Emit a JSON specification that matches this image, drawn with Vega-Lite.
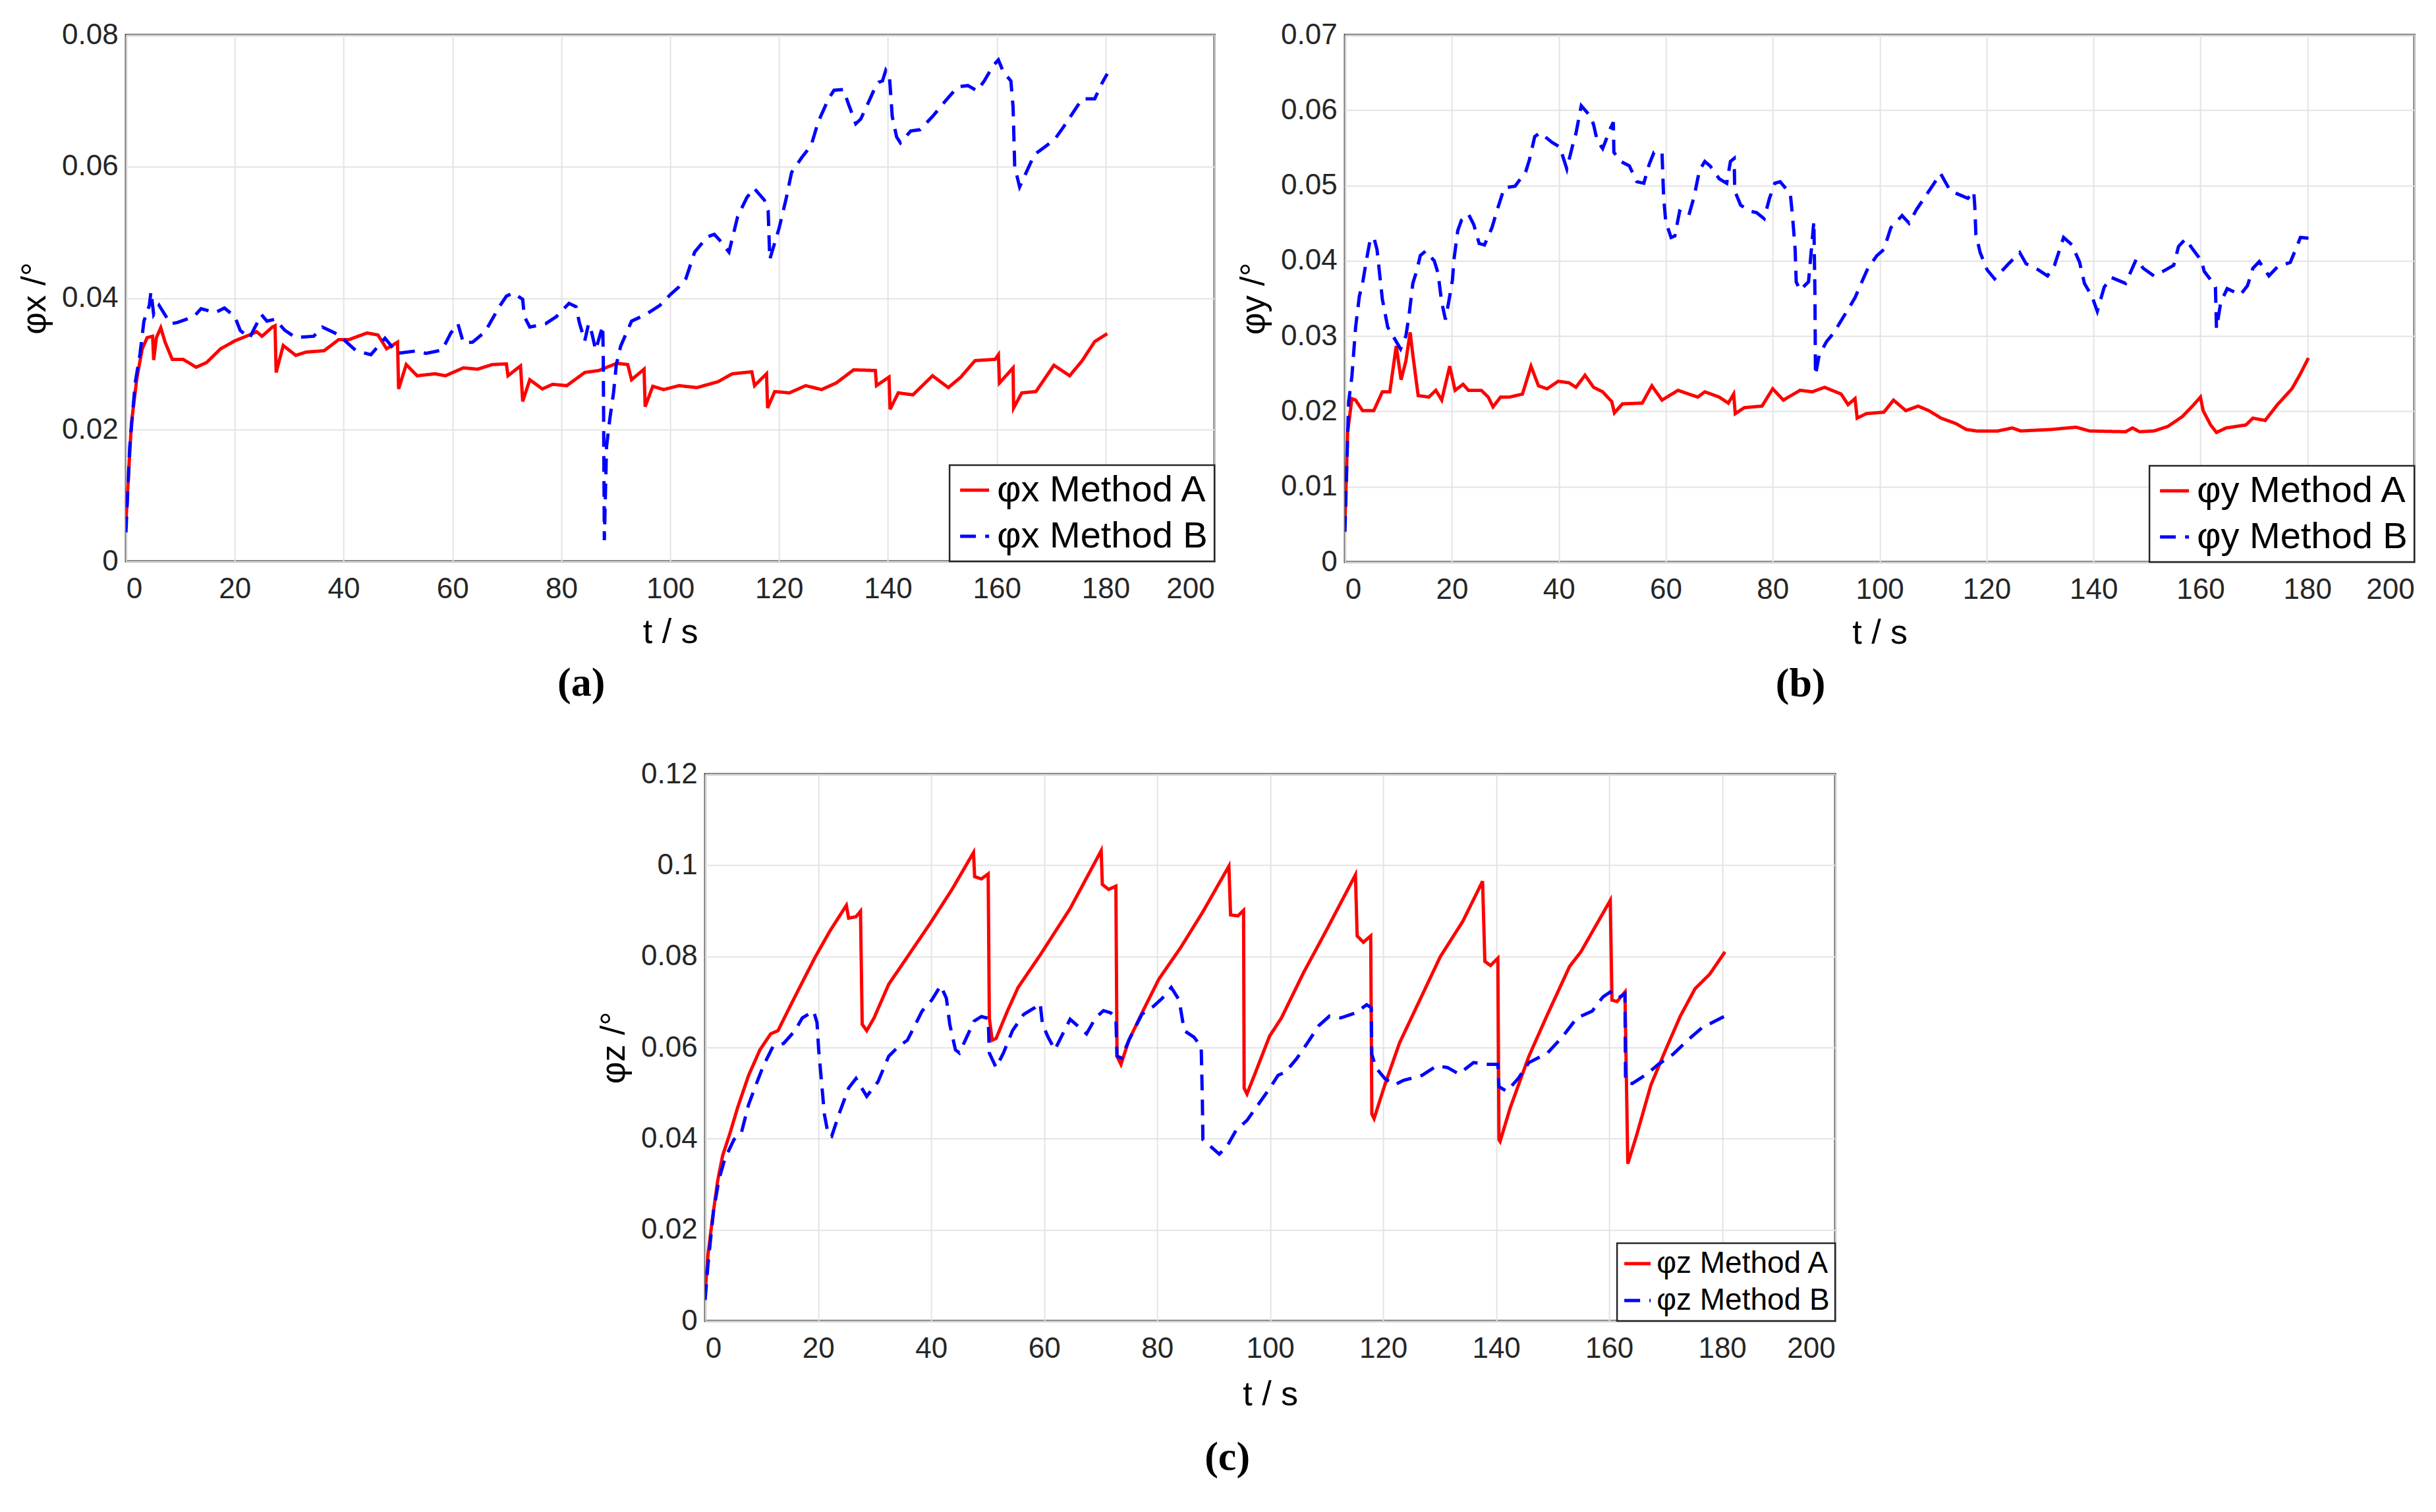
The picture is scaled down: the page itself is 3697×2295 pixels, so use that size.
{
  "$schema": "https://vega.github.io/schema/vega-lite/v6.json",
  "background": "white",
  "padding": {"left": 24, "top": 29, "right": 0, "bottom": 0},
  "config": {
    "font": "Liberation Sans",
    "view": {"stroke": "#262626", "strokeWidth": 3},
    "axis": {
      "grid": true, "gridColor": "#E3E3E3", "gridWidth": 2,
      "domain": false, "ticks": false,
      "labelFont": "Liberation Sans", "labelFontSize": 44, "labelColor": "#262626",
      "titleFont": "Liberation Sans", "titleFontSize": 52, "titleFontWeight": "normal", "titleColor": "#000000"
    },
    "axisX": {"labelPadding": 20, "titlePadding": 18},
    "axisY": {"labelPadding": 12, "titlePadding": 14},
    "legend": {
      "orient": "bottom-right", "offset": 0, "title": null,
      "fillColor": "white", "strokeColor": "#262626", "strokeWidth": 2.5,
      "labelFont": "Liberation Sans", "labelFontSize": 56, "labelColor": "#000000", "labelLimit": 800,
      "symbolType": "stroke", "symbolSize": 1936, "symbolStrokeWidth": 5,
      "padding": 10, "rowPadding": 14, "labelOffset": 6
    },
    "title": {"orient": "bottom", "font": "Liberation Serif", "fontSize": 62, "fontWeight": "bold", "color": "#000000", "offset": 22}
  },
  "datasets": {
    "a": [
      {"t":0,"v":0.0060,"m":"φx Method A"},{"t":1.0,"v":0.0209,"m":"φx Method A"},{"t":2.0,"v":0.0278,"m":"φx Method A"},{"t":3.0,"v":0.0323,"m":"φx Method A"},{"t":3.9,"v":0.0340,"m":"φx Method A"},{"t":4.9,"v":0.0342,"m":"φx Method A"},{"t":5.1,"v":0.0306,"m":"φx Method A"},{"t":5.6,"v":0.0340,"m":"φx Method A"},{"t":6.4,"v":0.0355,"m":"φx Method A"},{"t":7.2,"v":0.0333,"m":"φx Method A"},{"t":8.5,"v":0.0307,"m":"φx Method A"},{"t":10.5,"v":0.0307,"m":"φx Method A"},{"t":12.9,"v":0.0295,"m":"φx Method A"},{"t":14.8,"v":0.0302,"m":"φx Method A"},{"t":17.4,"v":0.0323,"m":"φx Method A"},{"t":20.0,"v":0.0335,"m":"φx Method A"},{"t":22.7,"v":0.0344,"m":"φx Method A"},{"t":24.0,"v":0.0349,"m":"φx Method A"},{"t":25.0,"v":0.0342,"m":"φx Method A"},{"t":26.9,"v":0.0356,"m":"φx Method A"},{"t":27.4,"v":0.0358,"m":"φx Method A"},{"t":27.6,"v":0.0287,"m":"φx Method A"},{"t":28.9,"v":0.0328,"m":"φx Method A"},{"t":31.2,"v":0.0313,"m":"φx Method A"},{"t":33.1,"v":0.0318,"m":"φx Method A"},{"t":36.4,"v":0.0320,"m":"φx Method A"},{"t":39.1,"v":0.0337,"m":"φx Method A"},{"t":41.0,"v":0.0337,"m":"φx Method A"},{"t":44.3,"v":0.0347,"m":"φx Method A"},{"t":46.3,"v":0.0344,"m":"φx Method A"},{"t":47.9,"v":0.0323,"m":"φx Method A"},{"t":49.9,"v":0.0333,"m":"φx Method A"},{"t":50.1,"v":0.0262,"m":"φx Method A"},{"t":51.5,"v":0.0299,"m":"φx Method A"},{"t":53.5,"v":0.0282,"m":"φx Method A"},{"t":56.8,"v":0.0285,"m":"φx Method A"},{"t":58.7,"v":0.0282,"m":"φx Method A"},{"t":62.0,"v":0.0294,"m":"φx Method A"},{"t":64.6,"v":0.0292,"m":"φx Method A"},{"t":67.3,"v":0.0299,"m":"φx Method A"},{"t":69.9,"v":0.0300,"m":"φx Method A"},{"t":70.2,"v":0.0282,"m":"φx Method A"},{"t":72.5,"v":0.0297,"m":"φx Method A"},{"t":72.9,"v":0.0243,"m":"φx Method A"},{"t":74.2,"v":0.0276,"m":"φx Method A"},{"t":76.5,"v":0.0262,"m":"φx Method A"},{"t":78.4,"v":0.0269,"m":"φx Method A"},{"t":81.0,"v":0.0267,"m":"φx Method A"},{"t":84.3,"v":0.0287,"m":"φx Method A"},{"t":86.9,"v":0.0290,"m":"φx Method A"},{"t":90.2,"v":0.0301,"m":"φx Method A"},{"t":92.2,"v":0.0299,"m":"φx Method A"},{"t":92.9,"v":0.0276,"m":"φx Method A"},{"t":95.2,"v":0.0292,"m":"φx Method A"},{"t":95.4,"v":0.0235,"m":"φx Method A"},{"t":96.8,"v":0.0266,"m":"φx Method A"},{"t":98.8,"v":0.0261,"m":"φx Method A"},{"t":101.6,"v":0.0267,"m":"φx Method A"},{"t":104.9,"v":0.0264,"m":"φx Method A"},{"t":108.8,"v":0.0273,"m":"φx Method A"},{"t":111.4,"v":0.0285,"m":"φx Method A"},{"t":115.0,"v":0.0288,"m":"φx Method A"},{"t":115.5,"v":0.0267,"m":"φx Method A"},{"t":117.7,"v":0.0285,"m":"φx Method A"},{"t":117.9,"v":0.0233,"m":"φx Method A"},{"t":119.2,"v":0.0258,"m":"φx Method A"},{"t":121.9,"v":0.0256,"m":"φx Method A"},{"t":124.9,"v":0.0267,"m":"φx Method A"},{"t":127.8,"v":0.0261,"m":"φx Method A"},{"t":130.5,"v":0.0271,"m":"φx Method A"},{"t":133.7,"v":0.0291,"m":"φx Method A"},{"t":137.7,"v":0.0290,"m":"φx Method A"},{"t":137.9,"v":0.0267,"m":"φx Method A"},{"t":140.2,"v":0.0280,"m":"φx Method A"},{"t":140.4,"v":0.0231,"m":"φx Method A"},{"t":141.9,"v":0.0256,"m":"φx Method A"},{"t":144.6,"v":0.0253,"m":"φx Method A"},{"t":148.2,"v":0.0282,"m":"φx Method A"},{"t":151.1,"v":0.0264,"m":"φx Method A"},{"t":153.4,"v":0.0280,"m":"φx Method A"},{"t":156.0,"v":0.0305,"m":"φx Method A"},{"t":159.7,"v":0.0307,"m":"φx Method A"},{"t":160.3,"v":0.0314,"m":"φx Method A"},{"t":160.5,"v":0.0271,"m":"φx Method A"},{"t":163.0,"v":0.0294,"m":"φx Method A"},{"t":163.1,"v":0.0233,"m":"φx Method A"},{"t":164.6,"v":0.0256,"m":"φx Method A"},{"t":167.2,"v":0.0258,"m":"φx Method A"},{"t":170.5,"v":0.0298,"m":"φx Method A"},{"t":173.4,"v":0.0282,"m":"φx Method A"},{"t":175.7,"v":0.0305,"m":"φx Method A"},{"t":178.0,"v":0.0334,"m":"φx Method A"},{"t":180.3,"v":0.0346,"m":"φx Method A"},
      {"t":0,"v":0.0044,"m":"φx Method B"},{"t":0.7,"v":0.0174,"m":"φx Method B"},{"t":1.7,"v":0.0271,"m":"φx Method B"},{"t":2.6,"v":0.0316,"m":"φx Method B"},{"t":3.3,"v":0.0365,"m":"φx Method B"},{"t":4.3,"v":0.0389,"m":"φx Method B"},{"t":4.6,"v":0.0410,"m":"φx Method B"},{"t":5.1,"v":0.0375,"m":"φx Method B"},{"t":6.1,"v":0.0389,"m":"φx Method B"},{"t":8.2,"v":0.0361,"m":"φx Method B"},{"t":9.5,"v":0.0363,"m":"φx Method B"},{"t":12.5,"v":0.0372,"m":"φx Method B"},{"t":13.8,"v":0.0384,"m":"φx Method B"},{"t":16.4,"v":0.0378,"m":"φx Method B"},{"t":18.1,"v":0.0385,"m":"φx Method B"},{"t":20.0,"v":0.0372,"m":"φx Method B"},{"t":21.0,"v":0.0351,"m":"φx Method B"},{"t":22.7,"v":0.0339,"m":"φx Method B"},{"t":23.6,"v":0.0354,"m":"φx Method B"},{"t":24.9,"v":0.0375,"m":"φx Method B"},{"t":25.9,"v":0.0365,"m":"φx Method B"},{"t":27.4,"v":0.0368,"m":"φx Method B"},{"t":29.2,"v":0.0351,"m":"φx Method B"},{"t":31.2,"v":0.0340,"m":"φx Method B"},{"t":34.5,"v":0.0342,"m":"φx Method B"},{"t":36.1,"v":0.0356,"m":"φx Method B"},{"t":38.4,"v":0.0347,"m":"φx Method B"},{"t":40.0,"v":0.0337,"m":"φx Method B"},{"t":42.3,"v":0.0320,"m":"φx Method B"},{"t":45.0,"v":0.0314,"m":"φx Method B"},{"t":47.6,"v":0.0339,"m":"φx Method B"},{"t":49.9,"v":0.0316,"m":"φx Method B"},{"t":53.5,"v":0.0320,"m":"φx Method B"},{"t":55.1,"v":0.0316,"m":"φx Method B"},{"t":58.1,"v":0.0321,"m":"φx Method B"},{"t":59.7,"v":0.0347,"m":"φx Method B"},{"t":61.0,"v":0.0361,"m":"φx Method B"},{"t":62.0,"v":0.0332,"m":"φx Method B"},{"t":63.7,"v":0.0333,"m":"φx Method B"},{"t":66.0,"v":0.0349,"m":"φx Method B"},{"t":67.3,"v":0.0368,"m":"φx Method B"},{"t":68.6,"v":0.0387,"m":"φx Method B"},{"t":69.9,"v":0.0403,"m":"φx Method B"},{"t":71.2,"v":0.0408,"m":"φx Method B"},{"t":72.9,"v":0.0398,"m":"φx Method B"},{"t":73.2,"v":0.0372,"m":"φx Method B"},{"t":74.2,"v":0.0356,"m":"φx Method B"},{"t":77.1,"v":0.0361,"m":"φx Method B"},{"t":79.1,"v":0.0372,"m":"φx Method B"},{"t":81.4,"v":0.0392,"m":"φx Method B"},{"t":82.7,"v":0.0387,"m":"φx Method B"},{"t":83.3,"v":0.0363,"m":"φx Method B"},{"t":84.3,"v":0.0335,"m":"φx Method B"},{"t":85.0,"v":0.0361,"m":"φx Method B"},{"t":85.6,"v":0.0347,"m":"φx Method B"},{"t":86.3,"v":0.0321,"m":"φx Method B"},{"t":87.6,"v":0.0358,"m":"φx Method B"},{"t":87.7,"v":0.0313,"m":"φx Method B"},{"t":87.9,"v":0.0032,"m":"φx Method B"},{"t":88.3,"v":0.0174,"m":"φx Method B"},{"t":88.9,"v":0.0216,"m":"φx Method B"},{"t":89.6,"v":0.0257,"m":"φx Method B"},{"t":90.1,"v":0.0299,"m":"φx Method B"},{"t":90.9,"v":0.0327,"m":"φx Method B"},{"t":92.9,"v":0.0365,"m":"φx Method B"},{"t":95.5,"v":0.0375,"m":"φx Method B"},{"t":98.1,"v":0.0389,"m":"φx Method B"},{"t":100.1,"v":0.0406,"m":"φx Method B"},{"t":101.6,"v":0.0417,"m":"φx Method B"},{"t":102.9,"v":0.0430,"m":"φx Method B"},{"t":104.5,"v":0.0470,"m":"φx Method B"},{"t":106.8,"v":0.0493,"m":"φx Method B"},{"t":108.1,"v":0.0497,"m":"φx Method B"},{"t":109.1,"v":0.0488,"m":"φx Method B"},{"t":110.8,"v":0.0470,"m":"φx Method B"},{"t":112.4,"v":0.0524,"m":"φx Method B"},{"t":114.1,"v":0.0553,"m":"φx Method B"},{"t":115.4,"v":0.0567,"m":"φx Method B"},{"t":117.3,"v":0.0549,"m":"φx Method B"},{"t":118.0,"v":0.0533,"m":"φx Method B"},{"t":118.3,"v":0.0459,"m":"φx Method B"},{"t":120.0,"v":0.0506,"m":"φx Method B"},{"t":121.3,"v":0.0551,"m":"φx Method B"},{"t":122.3,"v":0.0591,"m":"φx Method B"},{"t":124.2,"v":0.0614,"m":"φx Method B"},{"t":125.9,"v":0.0632,"m":"φx Method B"},{"t":127.2,"v":0.0668,"m":"φx Method B"},{"t":129.1,"v":0.0703,"m":"φx Method B"},{"t":130.1,"v":0.0716,"m":"φx Method B"},{"t":131.8,"v":0.0717,"m":"φx Method B"},{"t":132.8,"v":0.0694,"m":"φx Method B"},{"t":134.1,"v":0.0665,"m":"φx Method B"},{"t":135.0,"v":0.0672,"m":"φx Method B"},{"t":136.4,"v":0.0697,"m":"φx Method B"},{"t":137.7,"v":0.0721,"m":"φx Method B"},{"t":138.3,"v":0.0728,"m":"φx Method B"},{"t":139.0,"v":0.0730,"m":"φx Method B"},{"t":139.6,"v":0.0746,"m":"φx Method B"},{"t":140.3,"v":0.0735,"m":"φx Method B"},{"t":140.8,"v":0.0676,"m":"φx Method B"},{"t":141.6,"v":0.0645,"m":"φx Method B"},{"t":142.3,"v":0.0636,"m":"φx Method B"},{"t":144.2,"v":0.0654,"m":"φx Method B"},{"t":145.9,"v":0.0656,"m":"φx Method B"},{"t":148.2,"v":0.0676,"m":"φx Method B"},{"t":150.5,"v":0.0699,"m":"φx Method B"},{"t":152.8,"v":0.0721,"m":"φx Method B"},{"t":154.7,"v":0.0723,"m":"φx Method B"},{"t":156.4,"v":0.0715,"m":"φx Method B"},{"t":157.7,"v":0.0730,"m":"φx Method B"},{"t":159.3,"v":0.0753,"m":"φx Method B"},{"t":160.3,"v":0.0762,"m":"φx Method B"},{"t":161.2,"v":0.0744,"m":"φx Method B"},{"t":162.6,"v":0.0730,"m":"φx Method B"},{"t":163.0,"v":0.0690,"m":"φx Method B"},{"t":163.3,"v":0.0600,"m":"φx Method B"},{"t":164.2,"v":0.0569,"m":"φx Method B"},{"t":165.2,"v":0.0587,"m":"φx Method B"},{"t":166.9,"v":0.0618,"m":"φx Method B"},{"t":169.2,"v":0.0632,"m":"φx Method B"},{"t":170.8,"v":0.0643,"m":"φx Method B"},{"t":172.5,"v":0.0663,"m":"φx Method B"},{"t":174.1,"v":0.0683,"m":"φx Method B"},{"t":175.7,"v":0.0703,"m":"φx Method B"},{"t":178.0,"v":0.0703,"m":"φx Method B"},{"t":179.3,"v":0.0726,"m":"φx Method B"},{"t":180.3,"v":0.0741,"m":"φx Method B"}
    ],
    "b": [
      {"t":0,"v":0.0050,"m":"φy Method A"},{"t":0.5,"v":0.0172,"m":"φy Method A"},{"t":1.3,"v":0.0217,"m":"φy Method A"},{"t":2.0,"v":0.0215,"m":"φy Method A"},{"t":3.3,"v":0.0201,"m":"φy Method A"},{"t":5.4,"v":0.0201,"m":"φy Method A"},{"t":7.0,"v":0.0226,"m":"φy Method A"},{"t":8.4,"v":0.0226,"m":"φy Method A"},{"t":9.6,"v":0.0287,"m":"φy Method A"},{"t":10.5,"v":0.0242,"m":"φy Method A"},{"t":11.4,"v":0.0267,"m":"φy Method A"},{"t":12.2,"v":0.0305,"m":"φy Method A"},{"t":12.7,"v":0.0275,"m":"φy Method A"},{"t":13.7,"v":0.0221,"m":"φy Method A"},{"t":15.7,"v":0.0219,"m":"φy Method A"},{"t":17.0,"v":0.0228,"m":"φy Method A"},{"t":18.1,"v":0.0215,"m":"φy Method A"},{"t":19.6,"v":0.0260,"m":"φy Method A"},{"t":20.6,"v":0.0228,"m":"φy Method A"},{"t":22.1,"v":0.0236,"m":"φy Method A"},{"t":23.1,"v":0.0228,"m":"φy Method A"},{"t":25.5,"v":0.0228,"m":"φy Method A"},{"t":26.8,"v":0.0219,"m":"φy Method A"},{"t":27.7,"v":0.0206,"m":"φy Method A"},{"t":29.1,"v":0.0219,"m":"φy Method A"},{"t":30.8,"v":0.0219,"m":"φy Method A"},{"t":33.2,"v":0.0223,"m":"φy Method A"},{"t":34.8,"v":0.0260,"m":"φy Method A"},{"t":36.2,"v":0.0234,"m":"φy Method A"},{"t":37.8,"v":0.0230,"m":"φy Method A"},{"t":39.9,"v":0.0240,"m":"φy Method A"},{"t":41.9,"v":0.0238,"m":"φy Method A"},{"t":43.2,"v":0.0232,"m":"φy Method A"},{"t":44.9,"v":0.0248,"m":"φy Method A"},{"t":46.5,"v":0.0232,"m":"φy Method A"},{"t":48.2,"v":0.0226,"m":"φy Method A"},{"t":49.9,"v":0.0213,"m":"φy Method A"},{"t":50.4,"v":0.0198,"m":"φy Method A"},{"t":51.9,"v":0.0210,"m":"φy Method A"},{"t":55.6,"v":0.0211,"m":"φy Method A"},{"t":57.4,"v":0.0234,"m":"φy Method A"},{"t":59.3,"v":0.0215,"m":"φy Method A"},{"t":62.3,"v":0.0228,"m":"φy Method A"},{"t":64.3,"v":0.0223,"m":"φy Method A"},{"t":66.0,"v":0.0219,"m":"φy Method A"},{"t":67.3,"v":0.0226,"m":"φy Method A"},{"t":70.0,"v":0.0219,"m":"φy Method A"},{"t":71.7,"v":0.0211,"m":"φy Method A"},{"t":72.7,"v":0.0223,"m":"φy Method A"},{"t":73.0,"v":0.0197,"m":"φy Method A"},{"t":74.7,"v":0.0205,"m":"φy Method A"},{"t":78.0,"v":0.0207,"m":"φy Method A"},{"t":80.0,"v":0.0230,"m":"φy Method A"},{"t":82.0,"v":0.0215,"m":"φy Method A"},{"t":85.1,"v":0.0228,"m":"φy Method A"},{"t":87.4,"v":0.0226,"m":"φy Method A"},{"t":89.7,"v":0.0232,"m":"φy Method A"},{"t":92.8,"v":0.0223,"m":"φy Method A"},{"t":94.1,"v":0.0209,"m":"φy Method A"},{"t":95.4,"v":0.0217,"m":"φy Method A"},{"t":95.8,"v":0.0191,"m":"φy Method A"},{"t":97.5,"v":0.0197,"m":"φy Method A"},{"t":100.8,"v":0.0199,"m":"φy Method A"},{"t":102.6,"v":0.0215,"m":"φy Method A"},{"t":104.9,"v":0.0201,"m":"φy Method A"},{"t":107.2,"v":0.0207,"m":"φy Method A"},{"t":109.2,"v":0.0201,"m":"φy Method A"},{"t":111.5,"v":0.0191,"m":"φy Method A"},{"t":114.2,"v":0.0184,"m":"φy Method A"},{"t":116.2,"v":0.0176,"m":"φy Method A"},{"t":118.1,"v":0.0174,"m":"φy Method A"},{"t":122.1,"v":0.0174,"m":"φy Method A"},{"t":124.8,"v":0.0178,"m":"φy Method A"},{"t":126.4,"v":0.0174,"m":"φy Method A"},{"t":132.1,"v":0.0176,"m":"φy Method A"},{"t":136.7,"v":0.0179,"m":"φy Method A"},{"t":139.3,"v":0.0174,"m":"φy Method A"},{"t":146.0,"v":0.0173,"m":"φy Method A"},{"t":147.3,"v":0.0178,"m":"φy Method A"},{"t":148.6,"v":0.0173,"m":"φy Method A"},{"t":151.3,"v":0.0174,"m":"φy Method A"},{"t":153.9,"v":0.0180,"m":"φy Method A"},{"t":156.6,"v":0.0193,"m":"φy Method A"},{"t":158.5,"v":0.0207,"m":"φy Method A"},{"t":160.0,"v":0.0219,"m":"φy Method A"},{"t":160.5,"v":0.0201,"m":"φy Method A"},{"t":161.9,"v":0.0182,"m":"φy Method A"},{"t":163.0,"v":0.0172,"m":"φy Method A"},{"t":164.8,"v":0.0178,"m":"φy Method A"},{"t":168.5,"v":0.0182,"m":"φy Method A"},{"t":169.8,"v":0.0191,"m":"φy Method A"},{"t":172.1,"v":0.0188,"m":"φy Method A"},{"t":174.4,"v":0.0209,"m":"φy Method A"},{"t":177.1,"v":0.0230,"m":"φy Method A"},{"t":178.7,"v":0.0250,"m":"φy Method A"},{"t":180.2,"v":0.0271,"m":"φy Method A"},
      {"t":0,"v":0.0040,"m":"φy Method B"},{"t":0.7,"v":0.0213,"m":"φy Method B"},{"t":1.3,"v":0.0246,"m":"φy Method B"},{"t":2.0,"v":0.0312,"m":"φy Method B"},{"t":2.7,"v":0.0353,"m":"φy Method B"},{"t":3.3,"v":0.0370,"m":"φy Method B"},{"t":4.0,"v":0.0400,"m":"φy Method B"},{"t":4.7,"v":0.0427,"m":"φy Method B"},{"t":5.4,"v":0.0431,"m":"φy Method B"},{"t":6.0,"v":0.0415,"m":"φy Method B"},{"t":6.5,"v":0.0382,"m":"φy Method B"},{"t":7.0,"v":0.0349,"m":"φy Method B"},{"t":8.0,"v":0.0312,"m":"φy Method B"},{"t":9.0,"v":0.0300,"m":"φy Method B"},{"t":10.4,"v":0.0283,"m":"φy Method B"},{"t":11.4,"v":0.0300,"m":"φy Method B"},{"t":12.0,"v":0.0328,"m":"φy Method B"},{"t":12.7,"v":0.0370,"m":"φy Method B"},{"t":13.4,"v":0.0386,"m":"φy Method B"},{"t":14.1,"v":0.0407,"m":"φy Method B"},{"t":15.1,"v":0.0413,"m":"φy Method B"},{"t":16.7,"v":0.0400,"m":"φy Method B"},{"t":17.4,"v":0.0384,"m":"φy Method B"},{"t":18.1,"v":0.0345,"m":"φy Method B"},{"t":18.8,"v":0.0322,"m":"φy Method B"},{"t":19.4,"v":0.0345,"m":"φy Method B"},{"t":20.1,"v":0.0374,"m":"φy Method B"},{"t":20.4,"v":0.0402,"m":"φy Method B"},{"t":21.1,"v":0.0440,"m":"φy Method B"},{"t":21.8,"v":0.0454,"m":"φy Method B"},{"t":23.1,"v":0.0462,"m":"φy Method B"},{"t":24.1,"v":0.0448,"m":"φy Method B"},{"t":25.1,"v":0.0423,"m":"φy Method B"},{"t":26.1,"v":0.0421,"m":"φy Method B"},{"t":27.5,"v":0.0444,"m":"φy Method B"},{"t":28.5,"v":0.0468,"m":"φy Method B"},{"t":29.8,"v":0.0497,"m":"φy Method B"},{"t":31.8,"v":0.0499,"m":"φy Method B"},{"t":33.8,"v":0.0518,"m":"φy Method B"},{"t":34.5,"v":0.0534,"m":"φy Method B"},{"t":35.5,"v":0.0565,"m":"φy Method B"},{"t":36.5,"v":0.0570,"m":"φy Method B"},{"t":38.8,"v":0.0557,"m":"φy Method B"},{"t":40.2,"v":0.0551,"m":"φy Method B"},{"t":41.5,"v":0.0522,"m":"φy Method B"},{"t":42.5,"v":0.0551,"m":"φy Method B"},{"t":43.2,"v":0.0569,"m":"φy Method B"},{"t":44.2,"v":0.0606,"m":"φy Method B"},{"t":45.9,"v":0.0592,"m":"φy Method B"},{"t":46.5,"v":0.0581,"m":"φy Method B"},{"t":47.2,"v":0.0559,"m":"φy Method B"},{"t":48.2,"v":0.0549,"m":"φy Method B"},{"t":49.6,"v":0.0575,"m":"φy Method B"},{"t":50.2,"v":0.0584,"m":"φy Method B"},{"t":50.3,"v":0.0544,"m":"φy Method B"},{"t":51.6,"v":0.0532,"m":"φy Method B"},{"t":53.2,"v":0.0526,"m":"φy Method B"},{"t":54.6,"v":0.0505,"m":"φy Method B"},{"t":55.9,"v":0.0503,"m":"φy Method B"},{"t":56.9,"v":0.0528,"m":"φy Method B"},{"t":57.8,"v":0.0544,"m":"φy Method B"},{"t":59.3,"v":0.0544,"m":"φy Method B"},{"t":59.6,"v":0.0485,"m":"φy Method B"},{"t":60.0,"v":0.0452,"m":"φy Method B"},{"t":61.0,"v":0.0431,"m":"φy Method B"},{"t":61.7,"v":0.0433,"m":"φy Method B"},{"t":62.6,"v":0.0466,"m":"φy Method B"},{"t":64.3,"v":0.0460,"m":"φy Method B"},{"t":65.3,"v":0.0485,"m":"φy Method B"},{"t":66.3,"v":0.0520,"m":"φy Method B"},{"t":67.3,"v":0.0532,"m":"φy Method B"},{"t":68.3,"v":0.0526,"m":"φy Method B"},{"t":70.0,"v":0.0509,"m":"φy Method B"},{"t":71.4,"v":0.0503,"m":"φy Method B"},{"t":72.1,"v":0.0532,"m":"φy Method B"},{"t":72.8,"v":0.0536,"m":"φy Method B"},{"t":72.9,"v":0.0493,"m":"φy Method B"},{"t":74.0,"v":0.0474,"m":"φy Method B"},{"t":75.7,"v":0.0466,"m":"φy Method B"},{"t":77.0,"v":0.0464,"m":"φy Method B"},{"t":78.4,"v":0.0456,"m":"φy Method B"},{"t":79.4,"v":0.0483,"m":"φy Method B"},{"t":80.4,"v":0.0503,"m":"φy Method B"},{"t":81.4,"v":0.0505,"m":"φy Method B"},{"t":83.3,"v":0.0489,"m":"φy Method B"},{"t":83.7,"v":0.0460,"m":"φy Method B"},{"t":84.2,"v":0.0415,"m":"φy Method B"},{"t":84.4,"v":0.0372,"m":"φy Method B"},{"t":85.1,"v":0.0361,"m":"φy Method B"},{"t":86.7,"v":0.0372,"m":"φy Method B"},{"t":87.7,"v":0.0452,"m":"φy Method B"},{"t":87.9,"v":0.0357,"m":"φy Method B"},{"t":88.0,"v":0.0248,"m":"φy Method B"},{"t":88.7,"v":0.0275,"m":"φy Method B"},{"t":90.1,"v":0.0293,"m":"φy Method B"},{"t":91.4,"v":0.0304,"m":"φy Method B"},{"t":93.1,"v":0.0324,"m":"φy Method B"},{"t":94.4,"v":0.0339,"m":"φy Method B"},{"t":95.4,"v":0.0351,"m":"φy Method B"},{"t":96.8,"v":0.0374,"m":"φy Method B"},{"t":97.8,"v":0.0390,"m":"φy Method B"},{"t":99.5,"v":0.0407,"m":"φy Method B"},{"t":100.8,"v":0.0415,"m":"φy Method B"},{"t":102.1,"v":0.0444,"m":"φy Method B"},{"t":104.2,"v":0.0460,"m":"φy Method B"},{"t":105.5,"v":0.0450,"m":"φy Method B"},{"t":106.9,"v":0.0468,"m":"φy Method B"},{"t":108.5,"v":0.0485,"m":"φy Method B"},{"t":110.2,"v":0.0503,"m":"φy Method B"},{"t":111.4,"v":0.0516,"m":"φy Method B"},{"t":113.2,"v":0.0493,"m":"φy Method B"},{"t":114.5,"v":0.0489,"m":"φy Method B"},{"t":116.5,"v":0.0483,"m":"φy Method B"},{"t":117.6,"v":0.0492,"m":"φy Method B"},{"t":117.8,"v":0.0472,"m":"φy Method B"},{"t":118.0,"v":0.0435,"m":"φy Method B"},{"t":118.8,"v":0.0411,"m":"φy Method B"},{"t":120.1,"v":0.0388,"m":"φy Method B"},{"t":121.5,"v":0.0376,"m":"φy Method B"},{"t":124.1,"v":0.0396,"m":"φy Method B"},{"t":126.2,"v":0.0411,"m":"φy Method B"},{"t":127.4,"v":0.0396,"m":"φy Method B"},{"t":129.7,"v":0.0388,"m":"φy Method B"},{"t":131.4,"v":0.0380,"m":"φy Method B"},{"t":132.7,"v":0.0394,"m":"φy Method B"},{"t":134.4,"v":0.0431,"m":"φy Method B"},{"t":136.0,"v":0.0421,"m":"φy Method B"},{"t":137.4,"v":0.0398,"m":"φy Method B"},{"t":138.3,"v":0.0370,"m":"φy Method B"},{"t":139.7,"v":0.0353,"m":"φy Method B"},{"t":140.7,"v":0.0333,"m":"φy Method B"},{"t":142.0,"v":0.0365,"m":"φy Method B"},{"t":143.3,"v":0.0378,"m":"φy Method B"},{"t":146.0,"v":0.0370,"m":"φy Method B"},{"t":148.0,"v":0.0402,"m":"φy Method B"},{"t":149.3,"v":0.0390,"m":"φy Method B"},{"t":151.3,"v":0.0380,"m":"φy Method B"},{"t":153.0,"v":0.0386,"m":"φy Method B"},{"t":155.0,"v":0.0394,"m":"φy Method B"},{"t":155.9,"v":0.0419,"m":"φy Method B"},{"t":157.2,"v":0.0429,"m":"φy Method B"},{"t":158.4,"v":0.0417,"m":"φy Method B"},{"t":160.2,"v":0.0400,"m":"φy Method B"},{"t":160.7,"v":0.0386,"m":"φy Method B"},{"t":162.2,"v":0.0372,"m":"φy Method B"},{"t":162.8,"v":0.0365,"m":"φy Method B"},{"t":163.0,"v":0.0310,"m":"φy Method B"},{"t":163.8,"v":0.0345,"m":"φy Method B"},{"t":165.0,"v":0.0363,"m":"φy Method B"},{"t":167.5,"v":0.0355,"m":"φy Method B"},{"t":168.8,"v":0.0367,"m":"φy Method B"},{"t":169.8,"v":0.0390,"m":"φy Method B"},{"t":171.0,"v":0.0399,"m":"φy Method B"},{"t":172.8,"v":0.0380,"m":"φy Method B"},{"t":174.4,"v":0.0392,"m":"φy Method B"},{"t":176.8,"v":0.0398,"m":"φy Method B"},{"t":177.8,"v":0.0415,"m":"φy Method B"},{"t":178.7,"v":0.0431,"m":"φy Method B"},{"t":180.2,"v":0.0430,"m":"φy Method B"}
    ],
    "c": [
      {"t":0,"v":0.0063,"m":"φz Method A"},{"t":0.5,"v":0.0144,"m":"φz Method A"},{"t":1.2,"v":0.0215,"m":"φz Method A"},{"t":2.2,"v":0.0306,"m":"φz Method A"},{"t":3.1,"v":0.0363,"m":"φz Method A"},{"t":4.4,"v":0.0412,"m":"φz Method A"},{"t":5.75,"v":0.0468,"m":"φz Method A"},{"t":7.7,"v":0.0539,"m":"φz Method A"},{"t":9.7,"v":0.0595,"m":"φz Method A"},{"t":11.6,"v":0.0630,"m":"φz Method A"},{"t":12.9,"v":0.0637,"m":"φz Method A"},{"t":14.9,"v":0.0687,"m":"φz Method A"},{"t":16.9,"v":0.0736,"m":"φz Method A"},{"t":19.5,"v":0.0799,"m":"φz Method A"},{"t":22.1,"v":0.0856,"m":"φz Method A"},{"t":25.0,"v":0.0912,"m":"φz Method A"},{"t":25.4,"v":0.0884,"m":"φz Method A"},{"t":26.7,"v":0.0887,"m":"φz Method A"},{"t":27.5,"v":0.0899,"m":"φz Method A"},{"t":27.8,"v":0.0651,"m":"φz Method A"},{"t":28.6,"v":0.0637,"m":"φz Method A"},{"t":29.9,"v":0.0665,"m":"φz Method A"},{"t":32.5,"v":0.0739,"m":"φz Method A"},{"t":35.8,"v":0.0799,"m":"φz Method A"},{"t":39.7,"v":0.0870,"m":"φz Method A"},{"t":43.7,"v":0.0947,"m":"φz Method A"},{"t":47.5,"v":0.1028,"m":"φz Method A"},{"t":47.7,"v":0.0975,"m":"φz Method A"},{"t":48.9,"v":0.0970,"m":"φz Method A"},{"t":50.1,"v":0.0981,"m":"φz Method A"},{"t":50.3,"v":0.0665,"m":"φz Method A"},{"t":50.8,"v":0.0616,"m":"φz Method A"},{"t":51.5,"v":0.0620,"m":"φz Method A"},{"t":53.5,"v":0.0680,"m":"φz Method A"},{"t":55.4,"v":0.0732,"m":"φz Method A"},{"t":59.3,"v":0.0803,"m":"φz Method A"},{"t":64.6,"v":0.0905,"m":"φz Method A"},{"t":70.1,"v":0.1032,"m":"φz Method A"},{"t":70.3,"v":0.0958,"m":"φz Method A"},{"t":71.4,"v":0.0947,"m":"φz Method A"},{"t":72.7,"v":0.0954,"m":"φz Method A"},{"t":72.9,"v":0.0581,"m":"φz Method A"},{"t":73.6,"v":0.0563,"m":"φz Method A"},{"t":75.0,"v":0.0616,"m":"φz Method A"},{"t":77.6,"v":0.0683,"m":"φz Method A"},{"t":80.3,"v":0.0750,"m":"φz Method A"},{"t":84.2,"v":0.0820,"m":"φz Method A"},{"t":88.1,"v":0.0898,"m":"φz Method A"},{"t":92.7,"v":0.0998,"m":"φz Method A"},{"t":93.0,"v":0.0891,"m":"φz Method A"},{"t":94.3,"v":0.0889,"m":"φz Method A"},{"t":95.3,"v":0.0901,"m":"φz Method A"},{"t":95.4,"v":0.0511,"m":"φz Method A"},{"t":95.9,"v":0.0498,"m":"φz Method A"},{"t":97.3,"v":0.0542,"m":"φz Method A"},{"t":99.9,"v":0.0625,"m":"φz Method A"},{"t":102.0,"v":0.0665,"m":"φz Method A"},{"t":105.9,"v":0.0764,"m":"φz Method A"},{"t":109.9,"v":0.0856,"m":"φz Method A"},{"t":115.1,"v":0.0979,"m":"φz Method A"},{"t":115.4,"v":0.0845,"m":"φz Method A"},{"t":116.5,"v":0.0831,"m":"φz Method A"},{"t":117.8,"v":0.0845,"m":"φz Method A"},{"t":118.0,"v":0.0454,"m":"φz Method A"},{"t":118.4,"v":0.0444,"m":"φz Method A"},{"t":120.3,"v":0.0518,"m":"φz Method A"},{"t":122.9,"v":0.0610,"m":"φz Method A"},{"t":126.9,"v":0.0715,"m":"φz Method A"},{"t":130.1,"v":0.0799,"m":"φz Method A"},{"t":134.1,"v":0.0877,"m":"φz Method A"},{"t":137.6,"v":0.0965,"m":"φz Method A"},{"t":138.0,"v":0.0789,"m":"φz Method A"},{"t":139.0,"v":0.0780,"m":"φz Method A"},{"t":140.3,"v":0.0796,"m":"φz Method A"},{"t":140.5,"v":0.0398,"m":"φz Method A"},{"t":140.7,"v":0.0394,"m":"φz Method A"},{"t":142.5,"v":0.0468,"m":"φz Method A"},{"t":145.8,"v":0.0581,"m":"φz Method A"},{"t":149.1,"v":0.0673,"m":"φz Method A"},{"t":153.0,"v":0.0778,"m":"φz Method A"},{"t":155.0,"v":0.0810,"m":"φz Method A"},{"t":160.2,"v":0.0923,"m":"φz Method A"},{"t":160.5,"v":0.0704,"m":"φz Method A"},{"t":161.4,"v":0.0701,"m":"φz Method A"},{"t":162.8,"v":0.0722,"m":"φz Method A"},{"t":163.3,"v":0.0345,"m":"φz Method A"},{"t":164.8,"v":0.0405,"m":"φz Method A"},{"t":167.4,"v":0.0518,"m":"φz Method A"},{"t":170.0,"v":0.0595,"m":"φz Method A"},{"t":172.6,"v":0.0669,"m":"φz Method A"},{"t":175.2,"v":0.0729,"m":"φz Method A"},{"t":177.8,"v":0.0761,"m":"φz Method A"},{"t":180.5,"v":0.0810,"m":"φz Method A"},
      {"t":0,"v":0.0046,"m":"φz Method B"},{"t":0.5,"v":0.0123,"m":"φz Method B"},{"t":1.5,"v":0.0243,"m":"φz Method B"},{"t":2.5,"v":0.0313,"m":"φz Method B"},{"t":3.5,"v":0.0356,"m":"φz Method B"},{"t":5.1,"v":0.0398,"m":"φz Method B"},{"t":6.4,"v":0.0412,"m":"φz Method B"},{"t":7.7,"v":0.0475,"m":"φz Method B"},{"t":9.0,"v":0.0518,"m":"φz Method B"},{"t":10.3,"v":0.0560,"m":"φz Method B"},{"t":12.0,"v":0.0602,"m":"φz Method B"},{"t":13.9,"v":0.0609,"m":"φz Method B"},{"t":15.9,"v":0.0637,"m":"φz Method B"},{"t":17.2,"v":0.0665,"m":"φz Method B"},{"t":19.2,"v":0.0680,"m":"φz Method B"},{"t":19.8,"v":0.0655,"m":"φz Method B"},{"t":20.1,"v":0.0595,"m":"φz Method B"},{"t":20.7,"v":0.0511,"m":"φz Method B"},{"t":21.1,"v":0.0454,"m":"φz Method B"},{"t":21.8,"v":0.0408,"m":"φz Method B"},{"t":22.4,"v":0.0405,"m":"φz Method B"},{"t":23.7,"v":0.0454,"m":"φz Method B"},{"t":25.4,"v":0.0511,"m":"φz Method B"},{"t":26.7,"v":0.0532,"m":"φz Method B"},{"t":28.6,"v":0.0493,"m":"φz Method B"},{"t":30.6,"v":0.0525,"m":"φz Method B"},{"t":32.5,"v":0.0581,"m":"φz Method B"},{"t":34.2,"v":0.0602,"m":"φz Method B"},{"t":35.8,"v":0.0616,"m":"φz Method B"},{"t":38.4,"v":0.0680,"m":"φz Method B"},{"t":40.1,"v":0.0704,"m":"φz Method B"},{"t":41.7,"v":0.0736,"m":"φz Method B"},{"t":42.7,"v":0.0708,"m":"φz Method B"},{"t":43.3,"v":0.0651,"m":"φz Method B"},{"t":44.3,"v":0.0595,"m":"φz Method B"},{"t":45.0,"v":0.0588,"m":"φz Method B"},{"t":46.3,"v":0.0623,"m":"φz Method B"},{"t":47.6,"v":0.0658,"m":"φz Method B"},{"t":48.9,"v":0.0668,"m":"φz Method B"},{"t":50.1,"v":0.0664,"m":"φz Method B"},{"t":50.3,"v":0.0588,"m":"φz Method B"},{"t":51.5,"v":0.0556,"m":"φz Method B"},{"t":52.8,"v":0.0588,"m":"φz Method B"},{"t":54.4,"v":0.0637,"m":"φz Method B"},{"t":56.4,"v":0.0673,"m":"φz Method B"},{"t":58.4,"v":0.0688,"m":"φz Method B"},{"t":59.3,"v":0.0697,"m":"φz Method B"},{"t":59.7,"v":0.0651,"m":"φz Method B"},{"t":60.7,"v":0.0623,"m":"φz Method B"},{"t":61.9,"v":0.0595,"m":"φz Method B"},{"t":62.9,"v":0.0620,"m":"φz Method B"},{"t":64.6,"v":0.0662,"m":"φz Method B"},{"t":65.9,"v":0.0648,"m":"φz Method B"},{"t":67.5,"v":0.0630,"m":"φz Method B"},{"t":69.1,"v":0.0665,"m":"φz Method B"},{"t":70.5,"v":0.0681,"m":"φz Method B"},{"t":71.8,"v":0.0676,"m":"φz Method B"},{"t":72.7,"v":0.0665,"m":"φz Method B"},{"t":72.9,"v":0.0581,"m":"φz Method B"},{"t":73.7,"v":0.0577,"m":"φz Method B"},{"t":75.0,"v":0.0616,"m":"φz Method B"},{"t":77.3,"v":0.0673,"m":"φz Method B"},{"t":79.3,"v":0.0690,"m":"φz Method B"},{"t":80.9,"v":0.0708,"m":"φz Method B"},{"t":82.5,"v":0.0732,"m":"φz Method B"},{"t":83.9,"v":0.0704,"m":"φz Method B"},{"t":84.8,"v":0.0637,"m":"φz Method B"},{"t":86.5,"v":0.0623,"m":"φz Method B"},{"t":87.8,"v":0.0602,"m":"φz Method B"},{"t":88.0,"v":0.0489,"m":"φz Method B"},{"t":88.1,"v":0.0398,"m":"φz Method B"},{"t":89.1,"v":0.0387,"m":"φz Method B"},{"t":91.0,"v":0.0366,"m":"φz Method B"},{"t":92.4,"v":0.0384,"m":"φz Method B"},{"t":94.0,"v":0.0419,"m":"φz Method B"},{"t":95.9,"v":0.0440,"m":"φz Method B"},{"t":97.9,"v":0.0475,"m":"φz Method B"},{"t":99.9,"v":0.0510,"m":"φz Method B"},{"t":101.4,"v":0.0539,"m":"φz Method B"},{"t":102.7,"v":0.0546,"m":"φz Method B"},{"t":104.6,"v":0.0574,"m":"φz Method B"},{"t":106.6,"v":0.0610,"m":"φz Method B"},{"t":108.6,"v":0.0648,"m":"φz Method B"},{"t":110.5,"v":0.0669,"m":"φz Method B"},{"t":112.5,"v":0.0665,"m":"φz Method B"},{"t":115.1,"v":0.0676,"m":"φz Method B"},{"t":117.1,"v":0.0694,"m":"φz Method B"},{"t":117.9,"v":0.0687,"m":"φz Method B"},{"t":118.0,"v":0.0585,"m":"φz Method B"},{"t":118.7,"v":0.0556,"m":"φz Method B"},{"t":120.3,"v":0.0532,"m":"φz Method B"},{"t":122.0,"v":0.0518,"m":"φz Method B"},{"t":123.6,"v":0.0528,"m":"φz Method B"},{"t":126.9,"v":0.0539,"m":"φz Method B"},{"t":129.5,"v":0.0560,"m":"φz Method B"},{"t":131.4,"v":0.0556,"m":"φz Method B"},{"t":133.4,"v":0.0542,"m":"φz Method B"},{"t":136.0,"v":0.0567,"m":"φz Method B"},{"t":138.6,"v":0.0563,"m":"φz Method B"},{"t":140.3,"v":0.0563,"m":"φz Method B"},{"t":140.5,"v":0.0514,"m":"φz Method B"},{"t":141.9,"v":0.0504,"m":"φz Method B"},{"t":143.9,"v":0.0532,"m":"φz Method B"},{"t":145.8,"v":0.0567,"m":"φz Method B"},{"t":149.1,"v":0.0588,"m":"φz Method B"},{"t":151.7,"v":0.0623,"m":"φz Method B"},{"t":154.3,"v":0.0665,"m":"φz Method B"},{"t":157.0,"v":0.0680,"m":"φz Method B"},{"t":158.9,"v":0.0711,"m":"φz Method B"},{"t":160.2,"v":0.0722,"m":"φz Method B"},{"t":161.5,"v":0.0708,"m":"φz Method B"},{"t":162.8,"v":0.0718,"m":"φz Method B"},{"t":162.9,"v":0.0525,"m":"φz Method B"},{"t":164.1,"v":0.0521,"m":"φz Method B"},{"t":166.7,"v":0.0542,"m":"φz Method B"},{"t":168.7,"v":0.0563,"m":"φz Method B"},{"t":171.3,"v":0.0585,"m":"φz Method B"},{"t":173.9,"v":0.0616,"m":"φz Method B"},{"t":176.5,"v":0.0644,"m":"φz Method B"},{"t":180.5,"v":0.0669,"m":"φz Method B"}
    ]
  },
  "resolve": {
    "scale": {"x": "independent", "y": "independent", "color": "independent", "strokeDash": "independent"},
    "legend": {"color": "independent", "strokeDash": "independent"}
  },
  "center": true,
  "spacing": 80,
  "vconcat": [
    {
      "resolve": {
        "scale": {"x": "independent", "y": "independent", "color": "independent", "strokeDash": "independent"},
        "legend": {"color": "independent", "strokeDash": "independent"}
      },
      "bounds": "flush",
      "spacing": 198,
      "hconcat": [
        {
          "width": 1652,
          "height": 799,
          "data": {"name": "a"},
          "title": {"text": "(a)", "dx": -135},
          "mark": {"type": "line", "strokeWidth": 5, "clip": true},
          "encoding": {
            "x": {"field": "t", "type": "quantitative", "scale": {"domain": [0, 200], "nice": false},
                  "axis": {"values": [0, 20, 40, 60, 80, 100, 120, 140, 160, 180, 200], "title": "t  / s"}},
            "y": {"field": "v", "type": "quantitative", "scale": {"domain": [0, 0.08], "nice": false},
                  "axis": {"values": [0, 0.02, 0.04, 0.06, 0.08], "format": ".2~f", "title": "φx  /°"}},
            "color": {"field": "m", "type": "nominal",
                      "scale": {"domain": ["φx Method A", "φx Method B"], "range": ["#FF0000", "#0000FF"]}},
            "strokeDash": {"field": "m", "type": "nominal",
                           "scale": {"domain": ["φx Method A", "φx Method B"], "range": [[1, 0], [24, 14]]}}
          }
        },
        {
          "width": 1623,
          "height": 800,
          "data": {"name": "b"},
          "title": {"text": "(b)", "dx": -120},
          "mark": {"type": "line", "strokeWidth": 5, "clip": true},
          "encoding": {
            "x": {"field": "t", "type": "quantitative", "scale": {"domain": [0, 200], "nice": false},
                  "axis": {"values": [0, 20, 40, 60, 80, 100, 120, 140, 160, 180, 200], "title": "t  / s"}},
            "y": {"field": "v", "type": "quantitative", "scale": {"domain": [0, 0.07], "nice": false},
                  "axis": {"values": [0, 0.01, 0.02, 0.03, 0.04, 0.05, 0.06, 0.07], "format": ".2~f", "title": "φy  /°"}},
            "color": {"field": "m", "type": "nominal",
                      "scale": {"domain": ["φy Method A", "φy Method B"], "range": ["#FF0000", "#0000FF"]}},
            "strokeDash": {"field": "m", "type": "nominal",
                           "scale": {"domain": ["φy Method A", "φy Method B"], "range": [[1, 0], [24, 14]]}}
          }
        }
      ]
    },
    {
      "width": 1715,
      "height": 830,
      "data": {"name": "c"},
      "title": {"text": "(c)", "dx": -65, "offset": 40},
      "mark": {"type": "line", "strokeWidth": 5, "clip": true},
      "encoding": {
        "x": {"field": "t", "type": "quantitative", "scale": {"domain": [0, 200], "nice": false},
              "axis": {"values": [0, 20, 40, 60, 80, 100, 120, 140, 160, 180, 200], "title": "t  / s", "titlePadding": 22}},
        "y": {"field": "v", "type": "quantitative", "scale": {"domain": [0, 0.12], "nice": false},
              "axis": {"values": [0, 0.02, 0.04, 0.06, 0.08, 0.1, 0.12], "format": ".2~f", "title": "φz  /°"}},
        "color": {"field": "m", "type": "nominal",
                  "scale": {"domain": ["φz Method A", "φz Method B"], "range": ["#FF0000", "#0000FF"]},
                  "legend": {"labelFontSize": 46, "symbolSize": 1600, "rowPadding": 10, "padding": 8}},
        "strokeDash": {"field": "m", "type": "nominal",
                       "scale": {"domain": ["φz Method A", "φz Method B"], "range": [[1, 0], [24, 14]]},
                       "legend": {"labelFontSize": 46, "symbolSize": 1600, "rowPadding": 10, "padding": 8}}
      }
    }
  ]
}
